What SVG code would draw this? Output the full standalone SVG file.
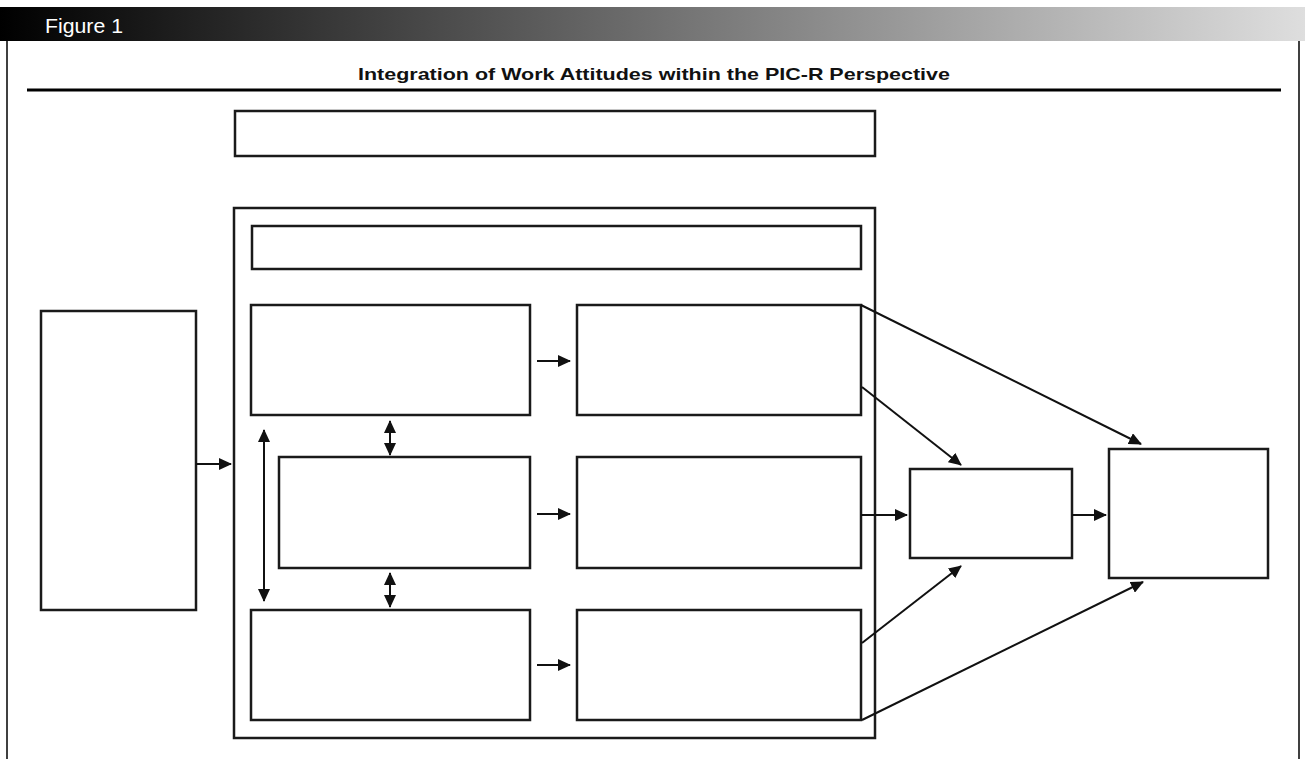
<svg xmlns="http://www.w3.org/2000/svg" width="1305" height="759" viewBox="0 0 1305 759">
<defs>
<linearGradient id="hdr" x1="0" y1="0" x2="1" y2="0">
<stop offset="0" stop-color="#000"/>
<stop offset="1" stop-color="#dedede"/>
</linearGradient>
<marker id="ah" markerUnits="userSpaceOnUse" markerWidth="14" markerHeight="12" refX="12" refY="6" orient="auto">
<path d="M0,0 L13,6 L0,12 Z" fill="#111"/>
</marker>
<marker id="as" markerUnits="userSpaceOnUse" markerWidth="14" markerHeight="12" refX="1" refY="6" orient="auto">
<path d="M13,0 L0,6 L13,12 Z" fill="#111"/>
</marker>
</defs>
<style>
.box{fill:#fff;stroke:#1a1a1a;stroke-width:2.5}
.ln{fill:none;stroke:#111;stroke-width:2}
.border{stroke:#000;stroke-width:1.5}
</style>
<rect x="0" y="0" width="1305" height="759" fill="#fff"/>
<rect x="0" y="7" width="1305" height="34" fill="url(#hdr)"/>
<text x="45" y="33" fill="#fff" font-family="Liberation Sans, Arial, sans-serif" font-size="21" textLength="78" lengthAdjust="spacingAndGlyphs">Figure 1</text>
<line class="border" x1="7" y1="41" x2="7" y2="759"/>
<line class="border" x1="1299" y1="41" x2="1299" y2="759"/>
<text x="358" y="80" font-family="Liberation Sans, Arial, sans-serif" font-size="17" font-weight="bold" fill="#111" textLength="592" lengthAdjust="spacingAndGlyphs">Integration of Work Attitudes within the PIC-R Perspective</text>
<line x1="27" y1="90" x2="1281" y2="90" stroke="#000" stroke-width="3"/>

<g id="top-box"><rect class="box" x="235" y="111" width="640" height="45"/></g>
<g id="container"><rect class="box" x="234" y="208" width="641" height="530"/></g>
<g id="inner-bar"><rect class="box" x="252" y="226" width="609" height="43"/></g>
<g id="left-box"><rect class="box" x="41" y="311" width="155" height="299"/></g>
<g id="r1-left"><rect class="box" x="251" y="305" width="279" height="110"/></g>
<g id="r1-right"><rect class="box" x="577" y="305" width="284" height="110"/></g>
<g id="r2-left"><rect class="box" x="279" y="457" width="251" height="111"/></g>
<g id="r2-right"><rect class="box" x="577" y="457" width="284" height="111"/></g>
<g id="r3-left"><rect class="box" x="251" y="610" width="279" height="110"/></g>
<g id="r3-right"><rect class="box" x="577" y="610" width="284" height="110"/></g>
<g id="mid-box"><rect class="box" x="910" y="469" width="162" height="89"/></g>
<g id="far-box"><rect class="box" x="1109" y="449" width="159" height="129"/></g>

<g id="connectors">
<line class="ln" x1="196" y1="464" x2="231" y2="464" marker-end="url(#ah)"/>
<line class="ln" x1="537" y1="361" x2="570" y2="361" marker-end="url(#ah)"/>
<line class="ln" x1="537" y1="514" x2="570" y2="514" marker-end="url(#ah)"/>
<line class="ln" x1="537" y1="665" x2="570" y2="665" marker-end="url(#ah)"/>
<line class="ln" x1="390" y1="421" x2="390" y2="455" marker-start="url(#as)" marker-end="url(#ah)"/>
<line class="ln" x1="390" y1="573" x2="390" y2="607" marker-start="url(#as)" marker-end="url(#ah)"/>
<line class="ln" x1="264" y1="430" x2="264" y2="601" marker-start="url(#as)" marker-end="url(#ah)"/>
<line class="ln" x1="861" y1="515" x2="907" y2="515" marker-end="url(#ah)"/>
<line class="ln" x1="1072" y1="515" x2="1106" y2="515" marker-end="url(#ah)"/>
<line class="ln" x1="861" y1="305" x2="1141" y2="444" marker-end="url(#ah)"/>
<line class="ln" x1="862" y1="387" x2="961" y2="465" marker-end="url(#ah)"/>
<line class="ln" x1="862" y1="643" x2="961" y2="566" marker-end="url(#ah)"/>
<line class="ln" x1="862" y1="720" x2="1143" y2="582" marker-end="url(#ah)"/>
</g>
</svg>
